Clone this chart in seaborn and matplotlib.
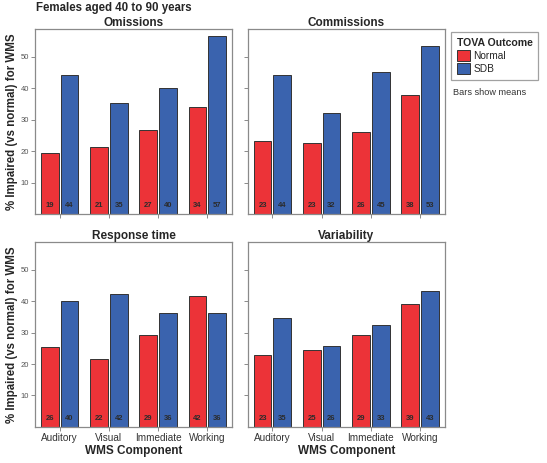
import pandas as pd
import matplotlib.pyplot as plt
import seaborn as sns
from matplotlib.patches import Patch

# Data
components = ["Auditory", "Visual", "Immediate", "Working"]
outcomes = ["Normal", "SDB"]
panels = ["Omissions", "Commissions", "Response time", "Variability"]

omissions_normal = [19.3, 21.2, 26.6, 34.0]
omissions_sdb = [44.4, 35.4, 40.0, 56.8]
commissions_normal = [23.2, 22.7, 26.0, 37.8]
commissions_sdb = [44.2, 32.1, 45.1, 53.4]
response_normal = [25.6, 21.6, 29.3, 41.6]
response_sdb = [40.0, 42.2, 36.3, 36.3]
variability_normal = [23.0, 24.6, 29.2, 39.2]
variability_sdb = [34.7, 25.9, 32.6, 43.3]

values = {
    "Omissions": (omissions_normal, omissions_sdb),
    "Commissions": (commissions_normal, commissions_sdb),
    "Response time": (response_normal, response_sdb),
    "Variability": (variability_normal, variability_sdb),
}

rows = []
for p in panels:
    normal, sdb = values[p]
    for c, n, s in zip(components, normal, sdb):
        rows.append({"Panel": p, "WMS Component": c, "TOVA Outcome": "Normal", "pct": n})
        rows.append({"Panel": p, "WMS Component": c, "TOVA Outcome": "SDB", "pct": s})
df = pd.DataFrame(rows)

sns.set_style("white")
plt.rcParams["font.family"] = ["Liberation Sans", "DejaVu Sans"]

palette = {"Normal": "#EC3338", "SDB": "#3A63AE"}
gray = "#8a8a8a"

fig = plt.figure(figsize=(5.47, 4.63), dpi=100)
positions = [
    [0.064, 0.538, 0.360, 0.400],
    [0.453, 0.538, 0.360, 0.400],
    [0.064, 0.078, 0.360, 0.400],
    [0.453, 0.078, 0.360, 0.400],
]

for i, p in enumerate(panels):
    ax = fig.add_axes(positions[i])
    sub = df[df["Panel"] == p]
    sns.barplot(data=sub, x="WMS Component", y="pct", hue="TOVA Outcome",
                order=components, hue_order=outcomes, palette=palette,
                width=0.8, gap=0.1, edgecolor="#333333", linewidth=0.7,
                saturation=1, errorbar=None, legend=False, ax=ax)
    # value labels near the bottom of each bar
    for cont in ax.containers:
        for bar in cont:
            v = bar.get_height()
            ax.text(bar.get_x() + bar.get_width() / 2, 2.6, f"{v:.0f}",
                    ha="center", va="center", fontsize=5.5, fontweight="bold",
                    color="#2b2b2b")
    ax.set_ylim(0, 59)
    ax.set_xlim(-0.5, 3.5)
    ax.set_yticks([10, 20, 30, 40, 50])
    ax.set_title(p, fontsize=8.5, fontweight="bold", pad=2)
    for s in ax.spines.values():
        s.set_color(gray)
        s.set_linewidth(0.9)
    ax.tick_params(axis="both", which="both", direction="out", length=3,
                   width=0.7, color=gray, pad=1.5, bottom=True, left=True)
    ax.tick_params(axis="y", labelsize=5.5, labelcolor="#555555")
    ax.tick_params(axis="x", labelsize=7.2, labelcolor="#333333")
    if i % 2 == 0:
        ax.set_ylabel("% Impaired (vs normal) for WMS", fontsize=8.3,
                      fontweight="bold", labelpad=2)
    else:
        ax.set_ylabel("")
        ax.set_yticklabels([])
    if i >= 2:
        ax.set_xlabel("WMS Component", fontsize=8.5, fontweight="bold", labelpad=1)
    else:
        ax.set_xlabel("")
        ax.set_xticklabels([])

fig.text(0.066, 0.982, "Females aged 40 to 90 years", fontsize=8.3,
         fontweight="bold", ha="left", va="center")

handles = [Patch(facecolor=palette[o], edgecolor="#333333", linewidth=0.7, label=o)
           for o in outcomes]
leg = fig.legend(handles=handles, title="TOVA Outcome", loc="upper left",
                 bbox_to_anchor=(0.816, 0.941), fontsize=7.3, title_fontsize=7.6,
                 frameon=True, fancybox=False, edgecolor=gray,
                 handlelength=1.3, handleheight=1.3, handletextpad=0.3,
                 labelspacing=0.2, borderpad=0.55)
leg.get_title().set_fontweight("bold")
leg._legend_box.align = "left"
leg.get_frame().set_linewidth(0.9)

fig.text(0.828, 0.80, "Bars show means", fontsize=6.6, ha="left", va="center",
         color="#333333")

fig.savefig("out.png", dpi=100)
